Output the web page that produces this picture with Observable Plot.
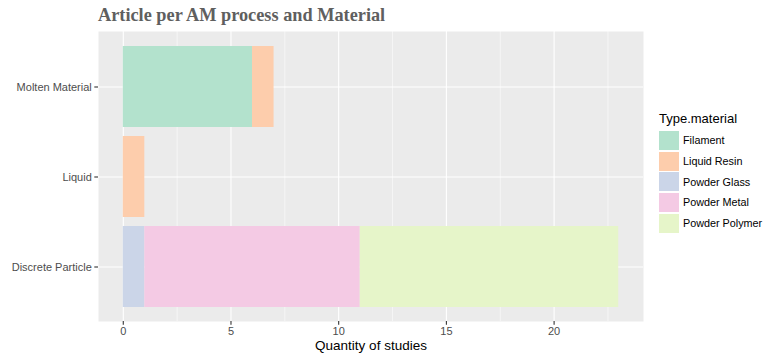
<!DOCTYPE html>
<html>
<head>
<meta charset="utf-8">
<script src="https://cdn.jsdelivr.net/npm/d3@7"></script>
<script src="https://cdn.jsdelivr.net/npm/@observablehq/plot@0.6"></script>
<style>
  body { margin: 0; background: #fff; }
  #wrap { position: relative; width: 764px; height: 356px; font-family: "Liberation Sans", Arial, sans-serif; overflow: hidden; }
  #title { position: absolute; left: 98px; top: 5px; font-family: "Liberation Serif", serif; font-weight: bold; font-size: 18.3px; color: #5f5f5f; white-space: nowrap; }
  #chart { position: absolute; left: 0; top: 0; }
  #legend { position: absolute; left: 659px; top: 111px; }
  #legend .lt { font-size: 13px; color: #000; margin-bottom: 4px; }
  #legend .row { display: flex; align-items: center; height: 20.7px; }
  #legend .key { width: 20px; height: 19px; margin-right: 4px; }
  #legend .lab { font-size: 10.8px; color: #000; }
</style>
</head>
<body>
<div id="wrap">
  <div id="title"></div>
  <div id="chart"></div>
  <div id="legend"></div>
</div>
<script>
const titleText = "Article per AM process and Material";
const xTitle = "Quantity of studies";
const legendTitle = "Type.material";

const categories = ["Molten Material", "Liquid", "Discrete Particle"];
const materialTypes = ["Filament", "Liquid Resin", "Powder Glass", "Powder Metal", "Powder Polymer"];
const materialColors = ["#B3E2CD", "#FDCDAC", "#CBD5E8", "#F4CAE4", "#E6F5C9"];

const barProcess = ["Molten Material", "Molten Material", "Liquid", "Discrete Particle", "Discrete Particle", "Discrete Particle"];
const barMaterial = ["Filament", "Liquid Resin", "Liquid Resin", "Powder Glass", "Powder Metal", "Powder Polymer"];
const barCount = [6, 1, 1, 1, 10, 12];

const xTicks = [0, 5, 10, 15, 20];
const xMinorTicks = [2.5, 7.5, 12.5, 17.5, 22.5];

const rows = barProcess.map((p, i) => ({process: p, material: barMaterial[i], count: barCount[i]}));

const xMax = d3.sum(rows.filter(r => r.process === "Discrete Particle"), r => r.count);
const xPad = xMax * 0.05;

document.getElementById("title").textContent = titleText;

const plot = Plot.plot({
  width: 764,
  height: 356,
  marginLeft: 98,
  marginRight: 121,
  marginTop: 31,
  marginBottom: 35,
  style: {fontFamily: "'Liberation Sans', Arial, sans-serif", fontSize: "11px", background: "transparent"},
  x: {domain: [-xPad, xMax + xPad]},
  y: {domain: categories, paddingInner: 0.1, paddingOuter: 0.15},
  color: {domain: materialTypes, range: materialColors},
  marks: [
    Plot.frame({fill: "#EBEBEB", stroke: null}),
    Plot.ruleX(xMinorTicks, {stroke: "#fff", strokeWidth: 0.55}),
    Plot.ruleX(xTicks, {stroke: "#fff", strokeWidth: 1.1}),
    Plot.ruleY(categories, {y: d => d, stroke: "#fff", strokeWidth: 1.1}),
    Plot.barX(rows, Plot.stackX({y: "process", x: "count", fill: "material", inset: 0})),
    Plot.axisY({tickSize: 3.7, tickPadding: 3, stroke: "#333", fill: "#4d4d4d", label: null, strokeWidth: 1.1}),
    Plot.axisX({ticks: xTicks, tickSize: 3.7, tickPadding: 2, stroke: "#333", fill: "#4d4d4d", label: null, strokeWidth: 1.1}),
    Plot.text([xTitle], {frameAnchor: "bottom", dy: 28.5, fontSize: 13.5, fill: "#000", text: d => d})
  ]
});
document.getElementById("chart").appendChild(plot);

const legend = d3.select("#legend");
legend.append("div").attr("class", "lt").text(legendTitle);
materialTypes.forEach((m, i) => {
  const row = legend.append("div").attr("class", "row");
  row.append("div").attr("class", "key").style("background", materialColors[i]);
  row.append("div").attr("class", "lab").text(m);
});
</script>
</body>
</html>
